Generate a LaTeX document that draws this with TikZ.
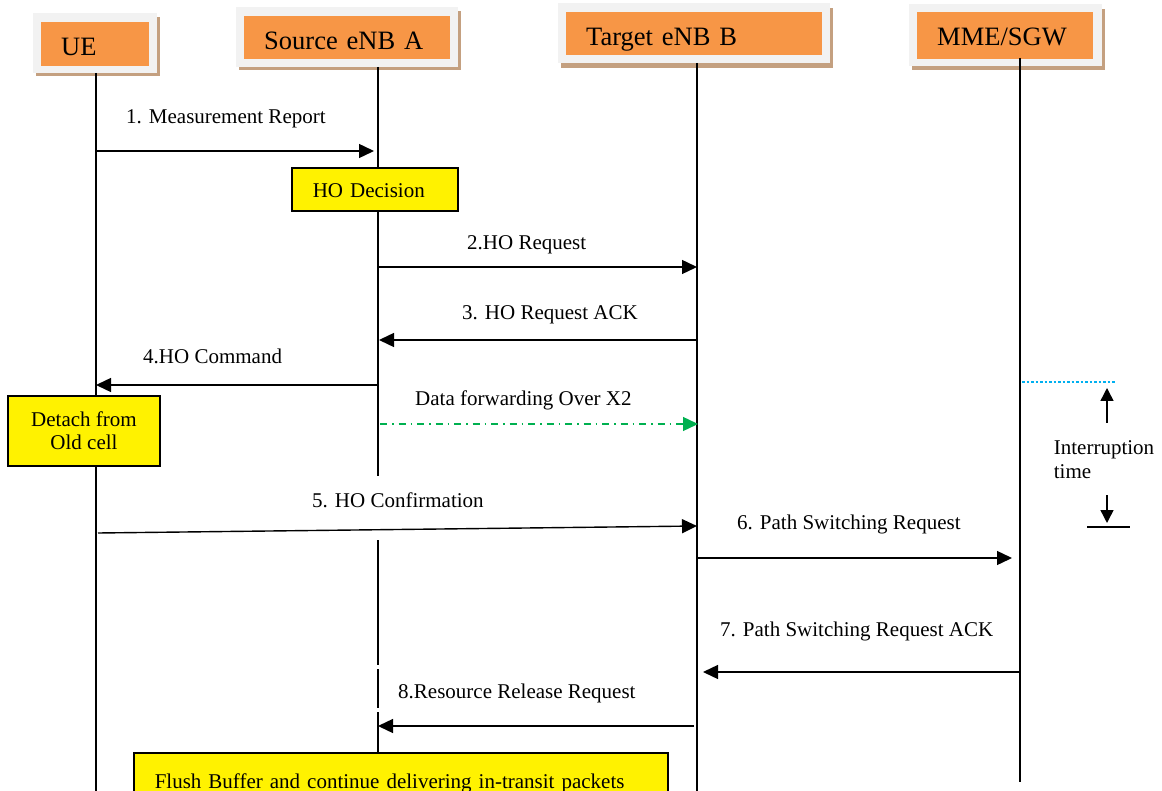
\documentclass[tikz,border=0pt]{standalone}
\usepackage{fontspec}
\setmainfont{Liberation Serif}
\usetikzlibrary{arrows.meta}
\definecolor{hdrorange}{HTML}{F79646}
\definecolor{hdrframe}{HTML}{F2F2F2}
\definecolor{hdrshadow}{RGB}{196,160,128}
\definecolor{fwdgreen}{HTML}{00B050}
\definecolor{intcyan}{HTML}{00B0F0}
\begin{document}
\begin{tikzpicture}[x=1pt,y=-1pt,
  hdrbox/.style={fill=hdrorange, draw=none, anchor=north west, inner xsep=20pt, inner ysep=0pt, align=left,
                 font=\fontsize{26.5pt}{30pt}\selectfont},
  lbl/.style={font=\fontsize{21pt}{24pt}\selectfont, inner sep=0pt, anchor=base west},
  ybox/.style={fill=yellow, draw=black, line width=1.6pt, font=\fontsize{21pt}{23pt}\selectfont},
  life/.style={line width=1.4pt},
  msg/.style={line width=1.4pt, -{Triangle[length=15pt,width=14pt]}},
  fwd/.style={fwdgreen, line width=1.4pt, dash pattern=on 7pt off 5pt on 1.5pt off 5pt, -{Triangle[length=15pt,width=14pt]}},
  intarrow/.style={line width=1.5pt, -{Triangle[length=13pt,width=13pt]}},
]
\useasboundingbox (0,0) rectangle (1162,791);

% ---------- headers ----------
% UE
\fill[hdrshadow] (36,17) rectangle (160,76);
\fill[hdrframe] (33,13) rectangle (157,73);
\node[hdrbox, text width=68pt, text height=33pt, text depth=11pt] (ue) at (41,22) {UE};
% Source eNB A
\fill[hdrshadow] (239,11) rectangle (461,70);
\fill[hdrframe] (236,7) rectangle (458,67);
\node[hdrbox, text width=166pt, text height=33pt, text depth=10pt] (src) at (244,16) {Source eNB A};
% Target eNB B
\fill[hdrshadow] (561,8) rectangle (833,68);
\fill[hdrframe] (558,3) rectangle (830,63);
\node[hdrbox, text width=216pt, text height=33pt, text depth=10pt] (tgt) at (566,12) {Target eNB B};
% MME/SGW
\fill[hdrshadow] (912,9) rectangle (1105,70);
\fill[hdrframe] (909,4) rectangle (1102,66);
\node[hdrbox, text width=136pt, text height=33pt, text depth=14pt] (mme) at (917,12) {MME/SGW};

% ---------- lifelines ----------
\coordinate (ueT) at (96,73);   \coordinate (ueB) at (96,791);
\coordinate (srcT) at (378,67); \coordinate (srcA) at (378,476);
\coordinate (srcC) at (378,540); \coordinate (srcD) at (378,665);
\coordinate (srcE) at (378,669); \coordinate (srcF) at (378,708);
\coordinate (srcG) at (378,712); \coordinate (srcB) at (378,752);
\coordinate (tgtT) at (697,63); \coordinate (tgtB) at (697,791);
\coordinate (mmeT) at (1020,58); \coordinate (mmeB) at (1020,782);
\draw[life] (ueT) -- (ueB);
\draw[life] (srcT) -- (srcA);
\draw[life] (srcC) -- (srcD);
\draw[life] (srcE) -- (srcF);
\draw[life] (srcG) -- (srcB);
\draw[life] (tgtT) -- (tgtB);
\draw[life] (mmeT) -- (mmeB);

% ---------- boxes ----------
\node[ybox, anchor=north west, inner xsep=21pt, inner ysep=0pt, text width=124pt, align=left,
      text height=30pt, text depth=13pt] (hodec) at (291,167) {HO Decision};
\node[ybox, minimum width=152pt, minimum height=70pt, inner sep=0pt, align=center] (detach) at (84,431)
      {Detach from\\Old cell};
\node[ybox, anchor=north west, inner xsep=21pt, inner ysep=0pt, text width=492pt, align=left,
      text height=36pt, text depth=14pt] (flush) at (133,752)
      {Flush Buffer and continue delivering in-transit packets};

% ---------- messages ----------
\coordinate (m1a) at (96,151);  \coordinate (m1b) at (374,151);
\coordinate (m2a) at (378,267); \coordinate (m2b) at (697,267);
\coordinate (m3a) at (697,340); \coordinate (m3b) at (379,340);
\coordinate (m4a) at (378,385); \coordinate (m4b) at (96,385);
\coordinate (dfa) at (380,424); \coordinate (dfb) at (698,424);
\coordinate (m5a) at (98,533);  \coordinate (m5b) at (697,526);
\coordinate (m6a) at (697,558); \coordinate (m6b) at (1012,558);
\coordinate (m7a) at (1020,672); \coordinate (m7b) at (703,672);
\coordinate (m8a) at (694,726); \coordinate (m8b) at (378,726);

\draw[msg] (m1a) -- (m1b);
\draw[msg] (m2a) -- (m2b);
\draw[msg] (m3a) -- (m3b);
\draw[msg] (m4a) -- (m4b);
\draw[fwd] (dfa) -- (dfb);
\draw[msg] (m5a) -- (m5b);
\draw[msg] (m6a) -- (m6b);
\draw[msg] (m7a) -- (m7b);
\draw[msg] (m8a) -- (m8b);

\node[lbl] (l1) at (126,124) {1. Measurement Report};
\node[lbl] (l2) at (467,250) {2.HO Request};
\node[lbl] (l3) at (462,320) {3. HO Request ACK};
\node[lbl] (l4) at (143,364) {4.HO Command};
\node[lbl] (ldf) at (415,406) {Data forwarding Over X2};
\node[lbl] (l5) at (312,507) {5. HO Confirmation};
\node[lbl] (l6) at (737,529) {6. Path Switching Request};
\node[lbl] (l7) at (720,636) {7. Path Switching Request ACK};
\node[lbl] (l8) at (398,698) {8.Resource Release Request};

% ---------- interruption time ----------
\coordinate (ic1) at (1022,382); \coordinate (ic2) at (1115,382);
\draw[intcyan, line width=2.5pt, dash pattern=on 2.5pt off 2pt] (ic1) -- (ic2);
\coordinate (iu1) at (1107,423); \coordinate (iu2) at (1107,388);
\draw[intarrow] (iu1) -- (iu2);
\coordinate (id1) at (1107,495); \coordinate (id2) at (1107,523);
\draw[intarrow] (id1) -- (id2);
\coordinate (ib1) at (1087,527); \coordinate (ib2) at (1130,527);
\draw[line width=1.5pt] (ib1) -- (ib2);
\node[font=\fontsize{21pt}{24pt}\selectfont, inner sep=0pt, align=left] (itime) at (1104,460) {Interruption\\time};
\end{tikzpicture}
\end{document}
